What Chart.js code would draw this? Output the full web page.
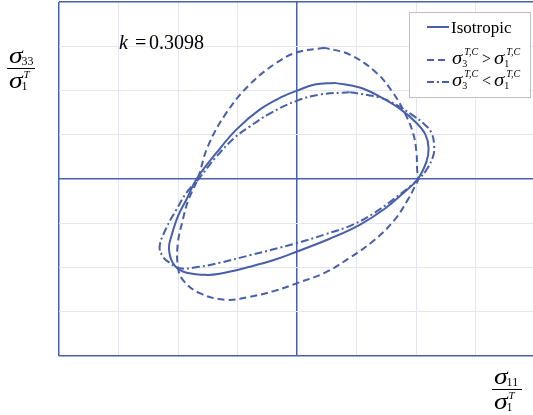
<!DOCTYPE html>
<html lang="en">
<head>
  <meta charset="UTF-8">
  <title>Failure envelope k = 0.3098</title>
  <script src="https://cdn.jsdelivr.net/npm/chart.js"></script>
  <style>
    body { margin: 0; background: #fff; }
  </style>
</head>
<body>
  <canvas id="grafico" width="533" height="415"></canvas>

  <script>
    // sigma11/sigma1T (x) and sigma33/sigma1T (y)
    const isoX = [0.315, 0.147, 0, -0.119, -0.315, -0.511, -0.679, -0.845, -0.931, -1.002, -1.057, -1.077, -1.044, -0.960, -0.777, -0.651, -0.399, -0.189, 0, 0.273, 0.525, 0.735, 0.903, 1.013, 1.086, 1.103, 1.077, 1.002, 0.861, 0.693, 0.525, 0.315];
    const isoY = [1.086, 1.067, 0.999, 0.934, 0.784, 0.558, 0.294, 0, -0.234, -0.423, -0.649, -0.781, -0.950, -1.045, -1.083, -1.071, -0.992, -0.913, -0.819, -0.675, -0.517, -0.336, -0.144, 0, 0.199, 0.351, 0.501, 0.633, 0.795, 0.931, 1.033, 1.086];

    const gtX = [0.231, 0, -0.175, -0.399, -0.595, -0.750, -0.836, -0.918, -0.960, -1.002, -1.002, -0.960, -0.819, -0.595, -0.399, -0.189, 0, 0.231, 0.441, 0.651, 0.819, 0.929, 0.987, 1.015, 1.007, 1.002, 0.973, 0.903, 0.805, 0.666, 0.441, 0.231];
    const gtY = [1.482, 1.432, 1.312, 1.067, 0.747, 0.369, 0, -0.253, -0.460, -0.724, -0.989, -1.139, -1.290, -1.365, -1.331, -1.264, -1.176, -1.060, -0.890, -0.687, -0.460, -0.234, -0.087, 0, 0.105, 0.294, 0.520, 0.747, 0.973, 1.199, 1.406, 1.482];

    const ltX = [0.441, 0.189, 0, -0.231, -0.399, -0.525, -0.679, -0.828, -0.931, -1.015, -1.099, -1.155, -1.128, -1.071, -0.987, -0.819, -0.651, -0.399, 0, 0.231, 0.469, 0.651, 0.805, 0.945, 1.021, 1.086, 1.141, 1.150, 1.128, 1.063, 0.962, 0.836, 0.693, 0.441];
    const ltY = [0.980, 0.954, 0.886, 0.739, 0.592, 0.467, 0.252, 0, -0.158, -0.347, -0.554, -0.762, -0.876, -0.947, -1.009, -0.992, -0.947, -0.862, -0.724, -0.627, -0.515, -0.380, -0.233, -0.087, 0, 0.105, 0.256, 0.369, 0.520, 0.625, 0.727, 0.835, 0.920, 0.980];

    const gridTicks = [-2, -1.5, -1, -0.5, 0, 0.5, 1, 1.5, 2];
    const kLabel = '0.3098';

    const blu = 'rgb(72, 95, 170)';
    const serif = '"Liberation Serif", "DejaVu Serif", serif';

    const punti = (xs, ys) => xs.map((x, i) => ({ x: x, y: ys[i] }));

    function serie(label, xs, ys, dash) {
      return {
        label: label,
        data: punti(xs, ys),
        showLine: true,
        borderColor: blu,
        borderWidth: 2,
        borderDash: dash,
        pointRadius: 0,
        tension: 0.4,
        fill: false
      };
    }

    // slightly widened sigma, returns its width
    function sig(ctx, x, y, px) {
      ctx.font = 'italic ' + px + 'px ' + serif;
      const w = ctx.measureText('σ').width * 1.15;
      ctx.save();
      ctx.translate(x, y);
      ctx.scale(1.15, 1);
      ctx.fillText('σ', 0, 0);
      ctx.restore();
      return w;
    }

    function frazione(ctx, x, yBar, numSub, w) {
      ctx.fillStyle = '#000';
      let ws = sig(ctx, x + 2, yBar - 5, 24);
      ctx.font = '12px ' + serif;
      ctx.fillText(numSub, x + ws + 1, yBar - 3);
      ws = sig(ctx, x + 2, yBar + 20, 24);
      ctx.font = 'italic 11px ' + serif;
      ctx.fillText('T', x + ws + 3, yBar + 10);
      ctx.font = '12px ' + serif;
      ctx.fillText('1', x + ws + 1, yBar + 22);
      ctx.strokeStyle = '#000';
      ctx.lineWidth = 1;
      ctx.beginPath();
      ctx.moveTo(x, yBar + 0.5);
      ctx.lineTo(x + w, yBar + 0.5);
      ctx.stroke();
    }

    function sigmaTC(ctx, x, b, idx) {
      const ws = sig(ctx, x, b, 18);
      ctx.font = 'italic 10px ' + serif;
      ctx.fillText('T,C', x + ws + 2, b - 9);
      ctx.font = '10px ' + serif;
      ctx.fillText(idx, x + ws, b + 3);
    }

    function voceLegenda(ctx, y, dash, testo) {
      ctx.strokeStyle = blu;
      ctx.lineWidth = 2;
      ctx.setLineDash(dash);
      ctx.beginPath();
      ctx.moveTo(427, y);
      ctx.lineTo(449, y);
      ctx.stroke();
      ctx.setLineDash([]);
      ctx.fillStyle = '#000';
      if (typeof testo === 'string') {
        ctx.font = '17px ' + serif;
        ctx.fillText(testo, 451, y + 6);
        return;
      }
      const b = y + 4;
      sigmaTC(ctx, 452, b, '3');
      ctx.font = '16px ' + serif;
      ctx.fillText(testo.op, 482, b);
      sigmaTC(ctx, 494, b, '1');
    }

    const testi = {
      id: 'testi',
      afterDraw(chart) {
        const ctx = chart.ctx;
        ctx.save();
        ctx.textBaseline = 'alphabetic';
        ctx.fillStyle = '#000';

        // k = 0.3098
        ctx.font = 'italic 20px ' + serif;
        ctx.fillText('k', 119, 49);
        ctx.font = '20px ' + serif;
        ctx.fillText('=', 135, 49);
        ctx.fillText(kLabel, 149, 49);

        // axis labels
        frazione(ctx, 7, 68, '33', 28);
        frazione(ctx, 492, 389, '11', 30);

        // legend box
        ctx.fillStyle = '#fff';
        ctx.fillRect(409.5, 12.5, 121, 85);
        ctx.strokeStyle = '#bfbfbf';
        ctx.lineWidth = 1;
        ctx.strokeRect(409.5, 12.5, 121, 85);
        voceLegenda(ctx, 27, [], 'Isotropic');
        voceLegenda(ctx, 60, [7, 4], { op: '>' });
        voceLegenda(ctx, 82, [7, 3, 2, 3], { op: '<' });
        ctx.restore();
      }
    };

    const coloreGriglia = (c) => {
      const v = c.tick ? c.tick.value : null;
      return (v === 0 || v === -2 || v === 2) ? blu : '#e3e6f0';
    };
    const spessoreGriglia = (c) => {
      const v = c.tick ? c.tick.value : null;
      return (v === 0 || v === -2 || v === 2) ? 1.5 : 1;
    };

    const grafico = new Chart(document.getElementById('grafico'), {
      type: 'scatter',
      data: {
        datasets: [
          serie('Isotropic', isoX, isoY, []),
          serie('σ3 > σ1', gtX, gtY, [7, 4]),
          serie('σ3 < σ1', ltX, ltY, [8, 3, 2, 3])
        ]
      },
      options: {
        responsive: false,
        animation: false,
        layout: { padding: { left: 59, top: 2, right: 0, bottom: 59 } },
        plugins: {
          legend: { display: false },
          tooltip: { enabled: false }
        },
        scales: {
          x: {
            type: 'linear',
            min: -2,
            max: 1.98,
            afterBuildTicks: (s) => { s.ticks = gridTicks.filter(v => v < 1.98).map(v => ({ value: v })); },
            ticks: { display: false },
            border: { display: false },
            grid: { color: coloreGriglia, lineWidth: spessoreGriglia, drawTicks: false }
          },
          y: {
            type: 'linear',
            min: -2,
            max: 2,
            afterBuildTicks: (s) => { s.ticks = gridTicks.map(v => ({ value: v })); },
            ticks: { display: false },
            border: { display: false },
            grid: { color: coloreGriglia, lineWidth: spessoreGriglia, drawTicks: false }
          }
        }
      },
      plugins: [testi]
    });
  </script>
</body>
</html>
